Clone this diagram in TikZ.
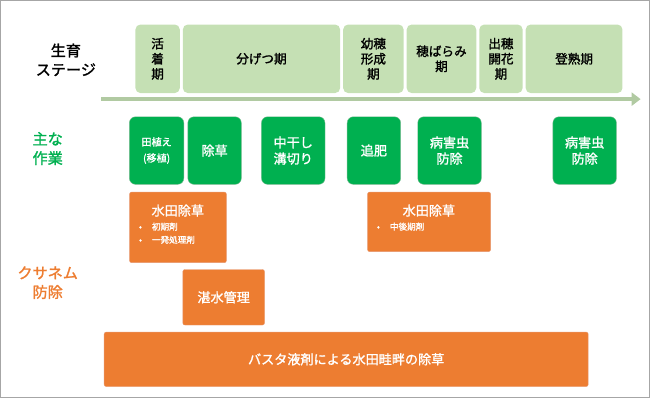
\documentclass[tikz,border=0pt]{standalone}
\usepackage{fontspec}
\setmainfont{Noto Sans CJK JP}[AutoFakeBold=1.5]
\usetikzlibrary{arrows.meta, positioning}
\definecolor{stageGreen}{RGB}{197, 224, 180}
\definecolor{taskGreen}{RGB}{0, 176, 80}
\definecolor{taskBorder}{RGB}{30, 140, 70}
\definecolor{weedOrange}{RGB}{237, 125, 49}
\definecolor{weedBorder}{RGB}{230, 150, 110}
\newcommand{\stagebox}[4]{\node[stage, minimum width=#2-#1, minimum height=68] (#3) at ({(#1+#2)/2},61) {#4};}
\newcommand{\taskbox}[4]{\node[task, minimum width=#2-#1, minimum height=67] (#3) at ({(#1+#2)/2},152) {#4};}

\begin{document}
\begin{tikzpicture}[
    x=1pt, y=-1pt,
    stage/.style={
        rectangle,
        fill=stageGreen,
        rounded corners=5pt,
        align=center,
        font=\fontsize{12.5}{15}\selectfont\bfseries,
        inner sep=0pt
    },
    task/.style={
        rectangle,
        draw=taskBorder!60,
        fill=taskGreen,
        text=white,
        rounded corners=6pt,
        align=center,
        font=\fontsize{13}{16}\selectfont\bfseries,
        inner sep=0pt
    },
    weed/.style={
        rectangle,
        draw=weedBorder,
        fill=weedOrange,
        text=white,
        rounded corners=2pt,
        align=center,
        font=\fontsize{13}{16}\selectfont\bfseries,
        inner sep=0pt
    },
    side/.style={font=\fontsize{15}{19}\selectfont\bfseries, align=center}
]
    % Frame
    \draw[gray!70, line width=0.6pt] (3,3) rectangle (647,397);

    % Growth stages
    \stagebox{137}{181}{katsu}{活\\着\\期}
    \stagebox{184}{340}{bunketsu}{分げつ期}
    \stagebox{343}{403}{yousui}{幼穂\\形成\\期}
    \stagebox{406}{475}{hobarami}{穂ばらみ\\期}
    \stagebox{478}{521}{shussui}{出穂\\開花\\期}
    \stagebox{524}{620}{tojuku}{登熟期}

    % Time arrow
    \coordinate (tstart) at (103,101);
    \coordinate (tend) at (638,101);
    \draw[stageGreen!90!black, line width=4pt, -{Triangle[length=9pt, width=13pt]}] (tstart) -- (tend);

    % Side labels
    \node[side] (lstage) at (68,62) {生育\\ステージ};
    \node[side, text=taskGreen] (ltask) at (50,150) {主な\\作業};
    \node[side, text=weedOrange] (lweed) at (50,283) {クサネム\\防除};

    % Main tasks
    \taskbox{131}{185}{taue}{\fontsize{10}{14}\selectfont 田植え\\\fontsize{10}{14}\selectfont (移植)}
    \taskbox{189}{242}{josou}{除草}
    \taskbox{262}{325}{nakaboshi}{中干し\\溝切り}
    \taskbox{347}{400}{tsuihi}{追肥}
    \taskbox{417}{480}{byogai}{病害虫\\防除}
    \taskbox{551}{614}{byogaib}{病害虫\\防除}

    % Weed control
    \node[weed, minimum width=96, minimum height=70, anchor=north west] (suiden) at (131,193) {};
    \node[font=\fontsize{13}{16}\selectfont\bfseries, text=white, anchor=north] (suidenT) at (179,202) {水田除草};
    \node[font=\fontsize{8.5}{13}\selectfont\bfseries, text=white, anchor=north west, align=left] (suidenL) at (137,220) {•\hspace{10pt}初期剤\\•\hspace{10pt}一発処理剤};
    \node[weed, minimum width=122, minimum height=59, anchor=north west] (suidenb) at (367,193) {};
    \node[font=\fontsize{13}{16}\selectfont\bfseries, text=white, anchor=north] (suidenbT) at (428,202) {水田除草};
    \node[font=\fontsize{8.5}{13}\selectfont\bfseries, text=white, anchor=north west, align=left] (suidenbL) at (373,220) {•\hspace{10pt}中後期剤};
    \node[weed, minimum width=81, minimum height=55] (tansui) at (224.5,297.5) {湛水管理};
    \node[weed, minimum width=480, minimum height=54] (basta) at (346,359) {バスタ液剤による水田畦畔の除草};
\end{tikzpicture}
\end{document}
